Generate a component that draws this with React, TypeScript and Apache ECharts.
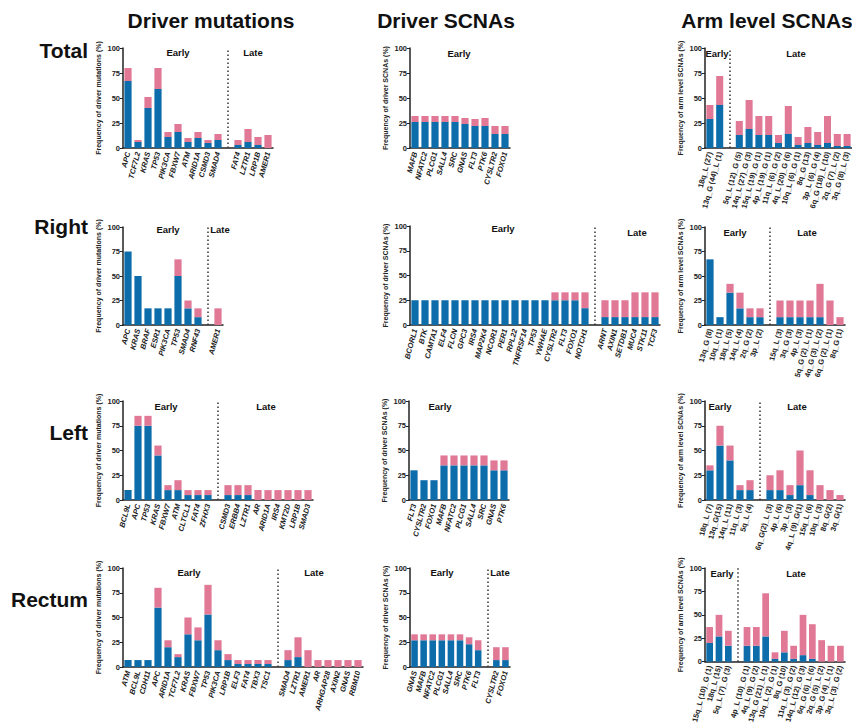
import React, { useEffect, useRef } from 'react';
import * as echarts from 'echarts';

const GAP = '_';

// ---------- Total ----------
const totalMutCats = ['APC', 'TCF7L2', 'KRAS', 'TP53', 'PIK3CA', 'FBXW7', 'ATM', 'ARID1A', 'CSMD3', 'SMAD4', GAP, 'FAT4', 'LZTR1', 'LRP1B', 'AMER1'];
const totalMutEarly = [67, 6, 40, 59, 11, 16, 6, 10, 5, 8, null, 3, 6, 3, 0];
const totalMutAll = [80, 8, 51, 80, 16, 24, 10, 16, 8, 14, null, 8, 19, 11, 13];

const totalScnaCats = ['MAFB', 'NFATC2', 'PLCG1', 'SALL4', 'SRC', 'GNAS', 'FLT3', 'PTK6', 'CYSLTR2', 'FOXO1'];
const totalScnaEarly = [26, 26, 26, 26, 26, 24, 22, 22, 14, 14];
const totalScnaAll = [32, 32, 32, 32, 32, 30, 29, 30, 22, 22];

const totalArmCats = ['18q_L (27)', '13q_G (44)_L (1)', GAP, '5q_L (12)_G (5)', '14q_L (27)_G (3)', '15q_L (19)_G (1)', '4p_L (19)_G (1)', '11q_L (6)_G (2)', '4q_L (20)_G (6)', '10q_L (6)_G (1)', '8q_G (13)', '3p_L (6)_G (4)', '6q_G (18)_L (10)', '2q_G (7)_L (2)', '3q_G (8)_L (3)'];
const totalArmEarly = [29, 43, null, 13, 19, 13, 13, 5, 14, 3, 5, 3, 5, 2, 2];
const totalArmAll = [43, 72, null, 27, 48, 32, 32, 13, 42, 11, 21, 16, 32, 14, 14];

// ---------- Right ----------
const rightMutCats = ['APC', 'KRAS', 'BRAF', 'ESR1', 'PIK3CA', 'TP53', 'SMAD4', 'RNF43', GAP, 'AMER1'];
const rightMutEarly = [75, 50, 17, 17, 17, 50, 17, 8, null, 0];
const rightMutAll = [75, 50, 17, 17, 17, 67, 25, 17, null, 17];

const rightScnaCats = ['BCORL1', 'BTK', 'CAMTA1', 'ELF4', 'FLCN', 'GPC3', 'IRS4', 'MAP2K4', 'NCOR1', 'PER1', 'RPL22', 'TNFRSF14', 'TP53', 'YWHAE', 'CYSLTR2', 'FLT3', 'FOXO1', 'NOTCH1', GAP, 'ARNT', 'AXIN1', 'SETDB1', 'MUC4', 'STK11', 'TCF3'];
const rightScnaEarly = [25, 25, 25, 25, 25, 25, 25, 25, 25, 25, 25, 25, 25, 25, 25, 25, 25, 17, null, 8, 8, 8, 8, 8, 8];
const rightScnaAll = [25, 25, 25, 25, 25, 25, 25, 25, 25, 25, 25, 25, 25, 25, 33, 33, 33, 33, null, 25, 25, 25, 33, 33, 33];

const rightArmCats = ['13q_G (8)', '10q_L (1)', '18q_L (5)', '14q_L (4)', '2q_G (2)', '3p_L (2)', GAP, '15q_L (3)', '3q_G (3)', '4p_L (3)', '5q_G (2)_L (1)', '4q_G (3)_L (2)', '6q_G (2)_L (1)', '8q_G (1)'];
const rightArmEarly = [67, 8, 33, 17, 8, 8, null, 8, 8, 8, 8, 8, 0, 0];
const rightArmAll = [67, 8, 42, 33, 17, 17, null, 25, 25, 25, 25, 42, 25, 8];

// ---------- Left ----------
const leftMutCats = ['BCL9L', 'APC', 'TP53', 'KRAS', 'FBXW7', 'ATM', 'CLTCL1', 'FAT4', 'ZFHX3', GAP, 'CSMD3', 'ERBB4', 'LZTR1', 'AR', 'ARID1A', 'IRS4', 'KMT2D', 'LRP1B', 'SMAD3'];
const leftMutEarly = [10, 75, 75, 45, 10, 10, 5, 5, 5, null, 5, 5, 5, 0, 0, 0, 0, 0, 0];
const leftMutAll = [10, 85, 85, 55, 15, 20, 10, 10, 10, null, 15, 15, 15, 10, 10, 10, 10, 10, 10];

const leftScnaCats = ['FLT3', 'CYSLTR2', 'FOXO1', 'MAFB', 'NFATC2', 'PLCG1', 'SALL4', 'SRC', 'GNAS', 'PTK6'];
const leftScnaEarly = [30, 20, 20, 35, 35, 35, 35, 35, 30, 30];
const leftScnaAll = [30, 20, 20, 45, 45, 45, 45, 45, 40, 40];

const leftArmCats = ['18q_L (7)', '13q_G(15)', '14q_L (11)', '11q_L (3)', '5q_L (4)', GAP, '6q_G(2)_L (3)', '4p_L (6)', '3p_L (3)', '4q_L (9)_G(1)', '15q_L (6)', '10q_L (3)', '8q_G(2)', '3q_G(1)'];
const leftArmEarly = [30, 55, 40, 10, 10, null, 10, 10, 5, 15, 5, 0, 0, 0];
const leftArmAll = [35, 75, 55, 15, 20, null, 25, 30, 15, 50, 30, 15, 10, 5];

// ---------- Rectum ----------
const rectMutCats = ['ATM', 'BCL9L', 'CDH11', 'APC', 'ARID1A', 'TCF7L2', 'KRAS', 'FBXW7', 'TP53', 'PIK3CA', 'LRP1B', 'ELF3', 'FAT4', 'TBX3', 'TSC1', GAP, 'SMAD4', 'LZTR1', 'AMER1', 'AR', 'ARHGAP28', 'AXIN2', 'GNAS', 'RBM10'];
const rectMutEarly = [7, 7, 7, 60, 20, 10, 33, 27, 53, 17, 7, 3, 3, 3, 3, null, 7, 10, 0, 0, 0, 0, 0, 0];
const rectMutAll = [7, 7, 7, 80, 27, 13, 50, 40, 83, 27, 13, 7, 7, 7, 7, null, 17, 30, 17, 7, 7, 7, 7, 7];

const rectScnaCats = ['GNAS', 'MAFB', 'NFATC2', 'PLCG1', 'SALL4', 'SRC', 'PTK6', 'FLT3', GAP, 'CYSLTR2', 'FOXO1'];
const rectScnaEarly = [27, 27, 27, 27, 27, 27, 23, 17, null, 7, 7];
const rectScnaAll = [33, 33, 33, 33, 33, 33, 30, 27, null, 20, 20];

const rectArmCats = ['15q_L (10)_G (1)', '18q_L (15)', '5q_L (7)_G (3)', GAP, '4p_L (10)_G (1)', '4q_L (9)_G (2)', '13q_G (21)_L (1)', '10q_L (2)_G (1)', '8q_G (10)', '11q_L (3)_G (2)', '14q_L (12)_G (3)', '6q_G (6)_L (6)', '2q_G (5)_L (2)', '3p_G (4)_L (1)', '3q_L (3)_G (2)'];
const rectArmEarly = [20, 27, 17, null, 17, 17, 27, 3, 10, 3, 7, 3, 0, 0, 0];
const rectArmAll = [37, 50, 33, null, 37, 37, 73, 10, 33, 17, 50, 40, 23, 17, 17];

const yNames = ['Frequency of driver mutations (%)', 'Frequency of driver SCNAs (%)', 'Frequency of arm level SCNAs (%)'];
const columnTitles = ['Driver mutations', 'Driver SCNAs', 'Arm level SCNAs'];
const rowTitles = ['Total', 'Right', 'Left', 'Rectum'];

const BLUE = '#0d6dab';
const PINK = '#e07896';
const FONT = 'Arial, "Liberation Sans", Helvetica, sans-serif';

type Panel = {
  cats: string[]; blue: (number | null)[]; all: (number | null)[];
  g: number[]; col: number; italic: boolean;
  early: number[] | null; late: number[] | null;
};

const panels: Panel[] = [
  { cats: totalMutCats, blue: totalMutEarly, all: totalMutAll, g: [123, 48, 150, 100], col: 0, italic: true, early: [178, 52], late: [253, 52] },
  { cats: totalScnaCats, blue: totalScnaEarly, all: totalScnaAll, g: [410, 48, 100, 100], col: 1, italic: true, early: [459, 53], late: null },
  { cats: totalArmCats, blue: totalArmEarly, all: totalArmAll, g: [705, 48, 150, 100], col: 2, italic: false, early: [717, 53], late: [796, 53] },

  { cats: rightMutCats, blue: rightMutEarly, all: rightMutAll, g: [123, 227, 100, 98], col: 0, italic: true, early: [168, 229], late: [220, 229] },
  { cats: rightScnaCats, blue: rightScnaEarly, all: rightScnaAll, g: [410, 226, 250, 99], col: 1, italic: true, early: [503, 228], late: [637, 232] },
  { cats: rightArmCats, blue: rightArmEarly, all: rightArmAll, g: [705, 227, 140, 98], col: 2, italic: false, early: [735, 232], late: [807, 232] },

  { cats: leftMutCats, blue: leftMutEarly, all: leftMutAll, g: [123, 401, 190, 99], col: 0, italic: true, early: [166, 406], late: [266, 406] },
  { cats: leftScnaCats, blue: leftScnaEarly, all: leftScnaAll, g: [409, 401, 100, 99], col: 1, italic: true, early: [440, 406], late: null },
  { cats: leftArmCats, blue: leftArmEarly, all: leftArmAll, g: [705, 401, 140, 99], col: 2, italic: false, early: [720, 406], late: [797, 406] },

  { cats: rectMutCats, blue: rectMutEarly, all: rectMutAll, g: [123, 568, 240, 99], col: 0, italic: true, early: [189, 572], late: [314, 572] },
  { cats: rectScnaCats, blue: rectScnaEarly, all: rectScnaAll, g: [410, 568, 100, 99], col: 1, italic: true, early: [442, 572], late: [500, 572] },
  { cats: rectArmCats, blue: rectArmEarly, all: rectArmAll, g: [705, 568, 140, 99], col: 2, italic: false, early: [722, 573], late: [796, 573] },
];

const colTitlePos = [[211, 20], [446, 20], [767, 20]];
const rowTitlePos = [[88, 50], [88, 226], [88, 432], [88, 599]];

function buildOption() {
  const grid = panels.map((p) => ({ left: p.g[0], top: p.g[1], width: p.g[2], height: p.g[3], containLabel: false }));
  const xAxis = panels.map((p, i) => ({
    type: 'category', gridIndex: i, data: p.cats,
    axisLine: { lineStyle: { color: '#222', width: 1.5 } },
    axisTick: { alignWithLabel: true, length: 3, lineStyle: { color: '#222', width: 1 } },
    axisLabel: {
      interval: 0, rotate: 75, fontSize: 7.5, fontWeight: 'bold', fontFamily: FONT,
      fontStyle: p.italic ? 'italic' : 'normal', color: '#222', margin: 4,
      formatter: (v: string) => (v === GAP ? '' : v),
    },
  }));
  const yAxis = panels.map((p, i) => ({
    type: 'value', gridIndex: i, min: 0, max: 100, interval: 25,
    name: yNames[p.col], nameLocation: 'middle', nameGap: 21,
    nameTextStyle: { fontSize: 7, fontWeight: 'bold', fontFamily: FONT, color: '#222' },
    axisLine: { show: true, lineStyle: { color: '#222', width: 1.5 } },
    axisTick: { show: true, length: 3, lineStyle: { color: '#222' } },
    axisLabel: { fontSize: 7.5, fontWeight: 'bold', fontFamily: FONT, color: '#222', margin: 3 },
    splitLine: { show: false },
  }));
  const series: any[] = [];
  panels.forEach((p, i) => {
    const pink = p.all.map((v, k) => (v == null ? null : v - (p.blue[k] ?? 0)));
    const hasGap = p.cats.includes(GAP);
    series.push({
      type: 'bar', xAxisIndex: i, yAxisIndex: i, stack: 's' + i, data: p.blue,
      barCategoryGap: '28%', itemStyle: { color: BLUE },
    });
    series.push({
      type: 'bar', xAxisIndex: i, yAxisIndex: i, stack: 's' + i, data: pink,
      barCategoryGap: '28%', itemStyle: { color: PINK },
      markLine: hasGap ? {
        silent: true, symbol: ['none', 'none'], label: { show: false },
        lineStyle: { color: '#333', type: [1.5, 2.5], width: 1.5 },
        data: [{ xAxis: GAP }],
      } : undefined,
    });
  });

  const graphic: any[] = [];
  columnTitles.forEach((t, i) => graphic.push({
    type: 'text', x: colTitlePos[i][0], y: colTitlePos[i][1],
    style: { text: t, fill: '#111', font: `bold 21px ${FONT}`, textAlign: 'center', textVerticalAlign: 'middle' },
  }));
  rowTitles.forEach((t, i) => graphic.push({
    type: 'text', x: rowTitlePos[i][0], y: rowTitlePos[i][1],
    style: { text: t, fill: '#111', font: `bold 21px ${FONT}`, textAlign: 'right', textVerticalAlign: 'middle' },
  }));
  panels.forEach((p) => {
    if (p.early) graphic.push({ type: 'text', x: p.early[0], y: p.early[1], style: { text: 'Early', fill: '#111', font: `bold 9.5px ${FONT}`, textAlign: 'center', textVerticalAlign: 'middle' } });
    if (p.late) graphic.push({ type: 'text', x: p.late[0], y: p.late[1], style: { text: 'Late', fill: '#111', font: `bold 9.5px ${FONT}`, textAlign: 'center', textVerticalAlign: 'middle' } });
  });

  return { animation: false, backgroundColor: '#fff', grid, xAxis, yAxis, series, graphic };
}

export default function App() {
  const ref = useRef<HTMLDivElement>(null);
  useEffect(() => {
    if (!ref.current) return;
    const chart = echarts.init(ref.current, undefined, { renderer: 'svg' });
    chart.setOption(buildOption() as any);
    return () => chart.dispose();
  }, []);
  return <div ref={ref} style={{ position: 'absolute', left: 0, top: 0, width: 852, height: 726 }} />;
}
